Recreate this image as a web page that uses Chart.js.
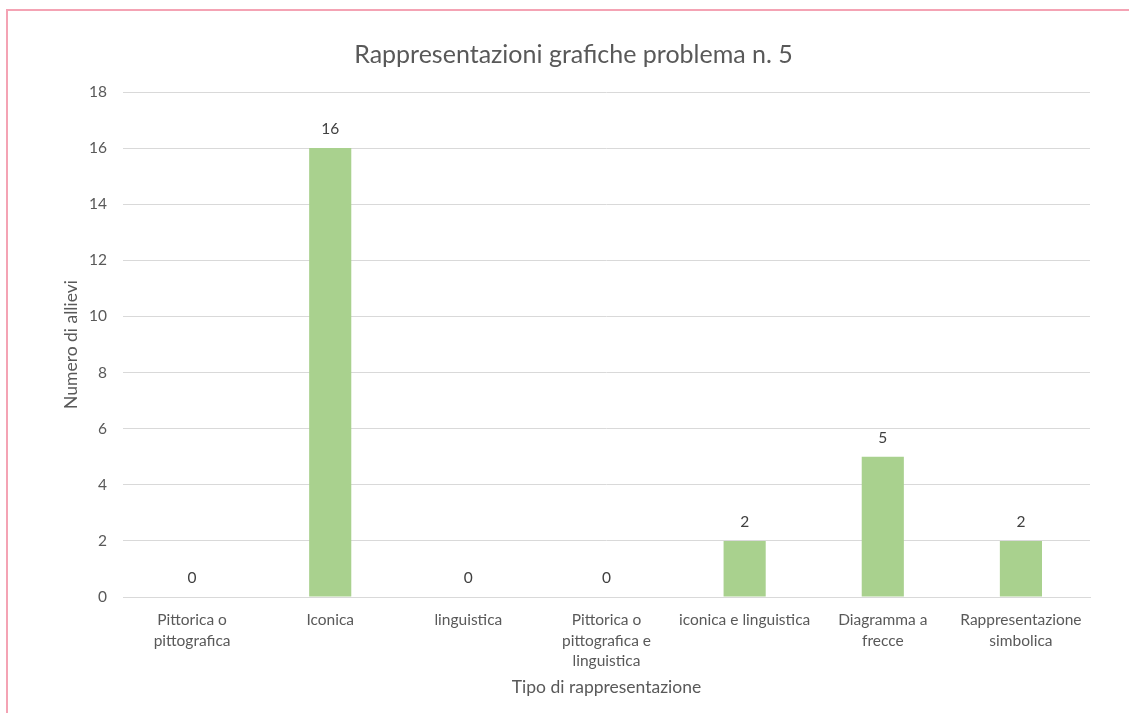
<!DOCTYPE html>
<html>
<head>
<meta charset="utf-8">
<script src="https://cdn.jsdelivr.net/npm/chart.js@4"></script>
<style>
  html, body { margin: 0; padding: 0; background: #fff; }
  #wrap { position: relative; width: 1129px; height: 713px; }
  #frame {
    position: absolute; left: 6px; top: 9px; right: 0; bottom: 0;
    border-top: 2px solid #F4A3B4; border-left: 2px solid #F4A3B4;
    pointer-events: none;
  }
</style>
</head>
<body>
<div id="wrap">
  <canvas id="chart" width="1129" height="713"></canvas>
  <div id="frame"></div>
</div>
<script>
const categories = [
  ["Pittorica o", "pittografica"],
  "Iconica",
  "linguistica",
  ["Pittorica o", "pittografica e", "linguistica"],
  "iconica e linguistica",
  ["Diagramma a", "frecce"],
  ["Rappresentazione", "simbolica"],
];
const allievi = [0, 16, 0, 0, 2, 5, 2];
const yTicks = [0, 2, 4, 6, 8, 10, 12, 14, 16, 18];

const FONT = "Lato, 'Open Sans', sans-serif";
const GREY = "#595959";

// value labels above each bar, like Excel data labels
const barLabels = {
  id: "barLabels",
  afterDatasetsDraw(chart) {
    const { ctx } = chart;
    const meta = chart.getDatasetMeta(0);
    ctx.save();
    ctx.font = `15.5px ${FONT}`;
    ctx.fillStyle = "#404040";
    ctx.textAlign = "center";
    ctx.textBaseline = "middle";
    meta.data.forEach((bar, i) => {
      ctx.fillText(String(allievi[i]), bar.x, bar.y - 19);
    });
    ctx.restore();
  }
};

new Chart(document.getElementById("chart"), {
  type: "bar",
  data: {
    labels: categories,
    datasets: [{
      data: allievi,
      backgroundColor: "#A9D18E",
      borderWidth: 0,
      categoryPercentage: 1,
      barPercentage: 0.305,
    }]
  },
  options: {
    responsive: false,
    animation: false,
    layout: { padding: { left: 57, right: 39, top: 40, bottom: 15 } },
    plugins: {
      legend: { display: false },
      tooltip: { enabled: false },
      title: {
        display: true,
        text: "Rappresentazioni grafiche problema n. 5",
        color: GREY,
        font: { family: FONT, size: 25, weight: "normal", lineHeight: 1.2 },
        padding: { top: 0, bottom: 22 },
      },
    },
    scales: {
      x: {
        afterFit(scale) { scale.height = 101; },
        grid: { display: false },
        border: { color: "#D9D9D9", width: 1 },
        ticks: {
          color: GREY, font: { family: FONT, size: 15.5, lineHeight: 1.32 }, padding: 5,
          maxRotation: 0, autoSkip: false,
        },
        title: {
          display: true, text: "Tipo di rappresentazione",
          color: GREY, font: { family: FONT, size: 17.5, lineHeight: 1.2 }, padding: { top: 5, bottom: 0 },
        },
      },
      y: {
        min: 0, max: 18,
        afterBuildTicks(scale) { scale.ticks = yTicks.map(v => ({ value: v })); },
        afterFit(scale) { scale.width = 66; },
        grid: { color: "#D9D9D9", lineWidth: 1, drawTicks: false },
        border: { display: false },
        ticks: { color: GREY, font: { family: FONT, size: 15.5 }, padding: 16 },
        title: {
          display: true, text: "Numero di allievi",
          color: GREY, font: { family: FONT, size: 17.5, lineHeight: 1.2 }, padding: { top: 4, bottom: 4 },
        },
      },
    },
  },
  plugins: [barLabels],
});
</script>
</body>
</html>
